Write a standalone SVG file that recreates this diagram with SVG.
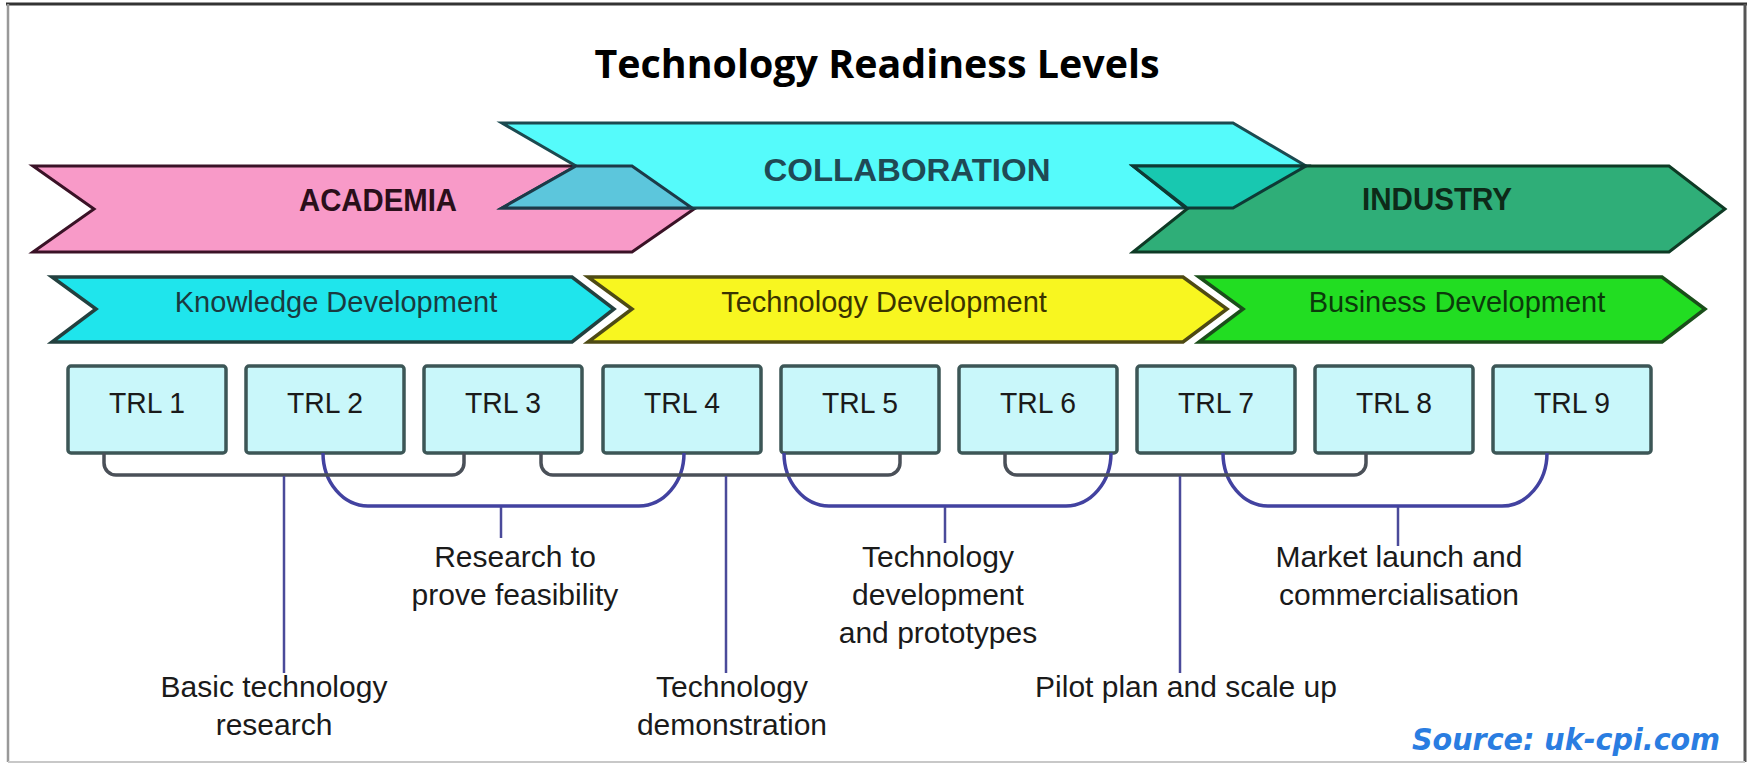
<svg xmlns="http://www.w3.org/2000/svg" width="1754" height="769" viewBox="0 0 1754 769">
  <style>
    .title { font-family: "Open Sans", "Liberation Sans", sans-serif; font-weight: bold; font-size: 39px; fill: #000; }
    .band { stroke-width: 3; stroke-linejoin: miter; }
    .bandlbl { font-family: "Liberation Sans", Arial, sans-serif; font-weight: bold; font-size: 32px; text-anchor: middle; }
    .phase { stroke-width: 3.5; stroke-linejoin: miter; }
    .phaselbl { font-family: "Liberation Sans", Arial, sans-serif; font-size: 29px; text-anchor: middle; }
    .trl rect { fill: #c9f7fa; stroke: #3c5656; stroke-width: 3.5; }
    .trl text { font-family: "Liberation Sans", Arial, sans-serif; font-size: 29px; fill: #1a1a1a; text-anchor: middle; }
    .grayb { fill: none; stroke: #4a5058; stroke-width: 3.5; }
    .purpb { fill: none; stroke: #4242a0; stroke-width: 3.5; }
    .stem { fill: none; stroke: #4a4a9a; stroke-width: 2.5; }
    .lbl { font-family: "Liberation Sans", Arial, sans-serif; font-size: 30px; fill: #1a1a1a; text-anchor: middle; }
  </style>

  <rect x="0" y="0" width="1754" height="769" fill="#ffffff"/>
  <!-- frame -->
  <g id="frame">
    <line x1="6" y1="4" x2="1747" y2="4" stroke="#333" stroke-width="3"/>
    <line x1="8" y1="4" x2="8" y2="762" stroke="#999" stroke-width="2.5"/>
    <line x1="1745" y1="4" x2="1745" y2="762" stroke="#555" stroke-width="3"/>
    <line x1="8" y1="762" x2="1745" y2="762" stroke="#c8c8c8" stroke-width="2"/>
  </g>

  <g id="title">
    <text class="title" x="877" y="78" text-anchor="middle" textLength="565" lengthAdjust="spacingAndGlyphs">Technology Readiness Levels</text>
  </g>

  <!-- top sector band -->
  <g id="academia">
    <polygon class="band" points="33,166 632,166 694,209 632,252 33,252 94,209" fill="#f89ac8" stroke="#3a1226"/>
  </g>
  <g id="collaboration">
    <polygon class="band" points="502,123 1233,123 1306,166 1233,208 502,208 576,166" fill="#55fbfb" stroke="#1c4a50"/>
  </g>
  <g id="industry">
    <polygon class="band" points="1133,166 1669,166 1725,209 1669,252 1133,252 1187,209" fill="#2fae78" stroke="#0e3a25"/>
  </g>
  <g id="overlaps">
    <polygon class="band" points="576,166 632,166 692,208 502,208" fill="#5cc6dc" stroke="#1c3a48"/>
    <polygon class="band" points="1133,166 1306,166 1233,208 1187,208" fill="#18c8b0" stroke="#0e3a35"/>
  </g>
  <g id="band-labels">
    <text class="bandlbl" x="378" y="211" fill="#2a0f1a" textLength="158" lengthAdjust="spacingAndGlyphs">ACADEMIA</text>
    <text class="bandlbl" x="907" y="181" fill="#1f4a55" textLength="287" lengthAdjust="spacingAndGlyphs">COLLABORATION</text>
    <text class="bandlbl" x="1437" y="210" fill="#0d2a18" textLength="150" lengthAdjust="spacingAndGlyphs">INDUSTRY</text>
  </g>

  <!-- development phases -->
  <g id="knowledge-development">
    <polygon class="phase" points="52,277 572,277 614,309 572,342 52,342 96,309" fill="#1fe5ec" stroke="#23403f"/>
    <text class="phaselbl" x="336" y="312" fill="#1a3a40">Knowledge Development</text>
  </g>
  <g id="technology-development">
    <polygon class="phase" points="588,277 1183,277 1227,309 1183,342 588,342 632,309" fill="#f8f620" stroke="#4e4a14"/>
    <text class="phaselbl" x="884" y="312" fill="#3a3300">Technology Development</text>
  </g>
  <g id="business-development">
    <polygon class="phase" points="1199,277 1662,277 1705,309 1662,342 1199,342 1243,309" fill="#22dd22" stroke="#1a4e1a"/>
    <text class="phaselbl" x="1457" y="312" fill="#0b3b0b">Business Development</text>
  </g>

  <!-- TRL boxes -->
  <g id="trl1" class="trl"><rect x="68" y="366" width="158" height="87" rx="3"/><text x="147" y="413" textLength="76" lengthAdjust="spacingAndGlyphs">TRL 1</text></g>
  <g id="trl2" class="trl"><rect x="246" y="366" width="158" height="87" rx="3"/><text x="325" y="413" textLength="76" lengthAdjust="spacingAndGlyphs">TRL 2</text></g>
  <g id="trl3" class="trl"><rect x="424" y="366" width="158" height="87" rx="3"/><text x="503" y="413" textLength="76" lengthAdjust="spacingAndGlyphs">TRL 3</text></g>
  <g id="trl4" class="trl"><rect x="603" y="366" width="158" height="87" rx="3"/><text x="682" y="413" textLength="76" lengthAdjust="spacingAndGlyphs">TRL 4</text></g>
  <g id="trl5" class="trl"><rect x="781" y="366" width="158" height="87" rx="3"/><text x="860" y="413" textLength="76" lengthAdjust="spacingAndGlyphs">TRL 5</text></g>
  <g id="trl6" class="trl"><rect x="959" y="366" width="158" height="87" rx="3"/><text x="1038" y="413" textLength="76" lengthAdjust="spacingAndGlyphs">TRL 6</text></g>
  <g id="trl7" class="trl"><rect x="1137" y="366" width="158" height="87" rx="3"/><text x="1216" y="413" textLength="76" lengthAdjust="spacingAndGlyphs">TRL 7</text></g>
  <g id="trl8" class="trl"><rect x="1315" y="366" width="158" height="87" rx="3"/><text x="1394" y="413" textLength="76" lengthAdjust="spacingAndGlyphs">TRL 8</text></g>
  <g id="trl9" class="trl"><rect x="1493" y="366" width="158" height="87" rx="3"/><text x="1572" y="413" textLength="76" lengthAdjust="spacingAndGlyphs">TRL 9</text></g>

  <!-- connectors -->
  <g id="connectors">
    <path class="purpb" d="M323,453 A45,53 0 0 0 368,506 H639 A45,53 0 0 0 684,453"/>
    <path class="purpb" d="M784,453 A45,53 0 0 0 829,506 H1066 A45,53 0 0 0 1111,453"/>
    <path class="purpb" d="M1223,453 A45,53 0 0 0 1268,506 H1502 A45,53 0 0 0 1547,453"/>
    <path class="grayb" d="M104,453 V463 A12,12 0 0 0 116,475 H452 A12,12 0 0 0 464,463 V453"/>
    <path class="grayb" d="M541,453 V463 A12,12 0 0 0 553,475 H888 A12,12 0 0 0 900,463 V453"/>
    <path class="grayb" d="M1005,453 V463 A12,12 0 0 0 1017,475 H1354 A12,12 0 0 0 1366,463 V453"/>
    <line class="stem" x1="284" y1="476" x2="284" y2="673"/>
    <line class="stem" x1="726" y1="476" x2="726" y2="673"/>
    <line class="stem" x1="1180" y1="476" x2="1180" y2="673"/>
    <line class="stem" x1="501" y1="507" x2="501" y2="538"/>
    <line class="stem" x1="945" y1="507" x2="945" y2="543"/>
    <line class="stem" x1="1398" y1="507" x2="1398" y2="546"/>
  </g>

  <!-- labels -->
  <g id="label-basic">
    <text class="lbl" x="274" y="697">Basic technology</text>
    <text class="lbl" x="274" y="735">research</text>
  </g>
  <g id="label-research">
    <text class="lbl" x="515" y="567">Research to</text>
    <text class="lbl" x="515" y="605">prove feasibility</text>
  </g>
  <g id="label-demo">
    <text class="lbl" x="732" y="697">Technology</text>
    <text class="lbl" x="732" y="735">demonstration</text>
  </g>
  <g id="label-prototypes">
    <text class="lbl" x="938" y="567">Technology</text>
    <text class="lbl" x="938" y="605">development</text>
    <text class="lbl" x="938" y="643">and prototypes</text>
  </g>
  <g id="label-pilot">
    <text class="lbl" x="1186" y="697">Pilot plan and scale up</text>
  </g>
  <g id="label-market">
    <text class="lbl" x="1399" y="567">Market launch and</text>
    <text class="lbl" x="1399" y="605">commercialisation</text>
  </g>
  <g id="source">
    <text x="1566" y="750" text-anchor="middle" font-family="'DejaVu Sans', sans-serif" font-weight="bold" font-style="italic" font-size="30" fill="#2a7de1" textLength="308" lengthAdjust="spacingAndGlyphs">Source: uk-cpi.com</text>
  </g>
</svg>
